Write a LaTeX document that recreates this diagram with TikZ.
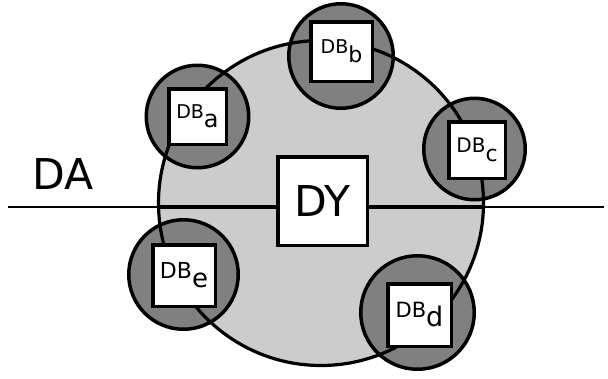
\documentclass[tikz,border=0pt]{standalone}
\usepackage{fontspec}
\setmainfont{DejaVu Sans}
\definecolor{ringfill}{gray}{0.8}
\definecolor{dbfill}{gray}{0.5}
% DB label with an enlarged, lowered subscript
\newcommand\dbname[3]{{\fontsize{#2}{#2}\selectfont DB\raisebox{-9pt}{\fontsize{#3}{#3}\selectfont #1}}}
\begin{document}
\begin{tikzpicture}[x=1pt,y=-1pt,
  halo/.style={circle, draw=black, line width=3.5pt, fill=dbfill, inner sep=0pt},
  dbbox/.style={rectangle, draw=black, line width=3.5pt, fill=white, inner sep=0pt},
  bus/.style={line width=2pt},
  busthick/.style={line width=3.6pt},
]
\useasboundingbox (0,0) rectangle (608,378);

% ring body
\node[circle, fill=ringfill, minimum size=325pt, inner sep=0pt] (ring) at (321,203) {};

% bus line
\coordinate (busL) at (8,207);
\coordinate (busR) at (604,207);
\draw[bus] (busL) -- (busR);

% halos around the DB boxes
\node[halo, minimum size=102.5pt] (ha) at (197.5,116.5) {};
\node[halo, minimum size=104.5pt] (hb) at (341,56) {};
\node[halo, minimum size=101.5pt] (hc) at (474.5,149) {};
\node[halo, minimum size=113.5pt] (hd) at (417.5,312.5) {};
\node[halo, minimum size=109.5pt] (he) at (183.5,274.5) {};

% ring outline
\draw[line width=3.2pt] (ring.center) circle[radius=162.5];

% boxes
\node[dbbox, minimum width=57.5pt, minimum height=55.5pt] (dba) at (197.5,116.5) {\dbname{a}{19}{24}};
\node[dbbox, minimum width=61.5pt, minimum height=59.5pt] (dbb) at (341.5,51.5) {\dbname{b}{19}{22}};
\node[dbbox, minimum width=56.5pt, minimum height=56.5pt] (dbc) at (477,150) {\dbname{c}{20}{22}};
\node[dbbox, minimum width=63.5pt, minimum height=62.5pt] (dbd) at (419.5,315) {\dbname{d}{21}{27}};
\node[dbbox, minimum width=62.5pt, minimum height=61.5pt] (dbe) at (184,275.5) {\dbname{e}{22}{26}};
\node[dbbox, minimum width=89.5pt, minimum height=88.5pt, font=\fontsize{42.5}{42.5}\selectfont] (dy) at (322.5,201) {DY};

% thick bus inside the ring
\coordinate (ringW) at (158.6,207);
\coordinate (ringE) at (483.4,207);
\draw[busthick] (ringW) -- (ringW -| dy.west);
\draw[busthick] (dy.east |- ringE) -- (ringE);

% label
\node[anchor=base west, inner sep=0pt, font=\fontsize{42.5}{42.5}\selectfont] (da) at (32,189) {DA};
\end{tikzpicture}
\end{document}
